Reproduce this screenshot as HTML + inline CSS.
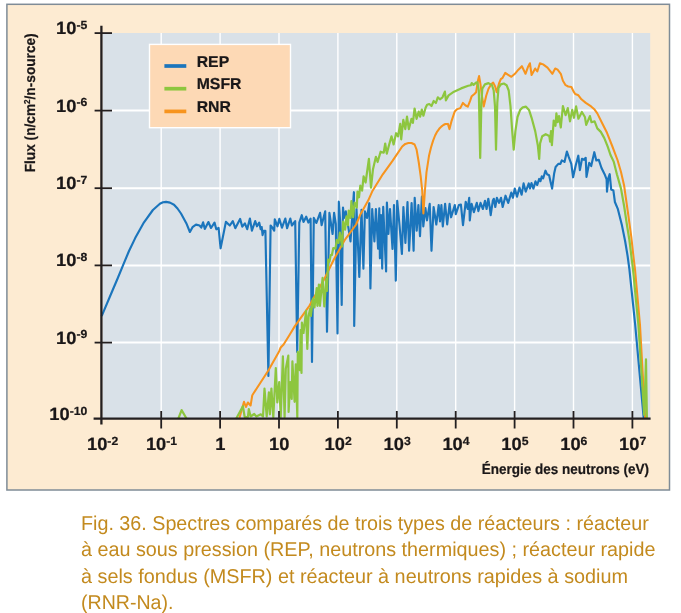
<!DOCTYPE html>
<html lang="fr"><head><meta charset="utf-8"><title>Fig. 36</title>
<style>
html,body{margin:0;padding:0;background:#fff;}
body{width:681px;height:613px;overflow:hidden;}
svg{display:block;}
text{font-family:"Liberation Sans",sans-serif;text-rendering:geometricPrecision;}
.b{font-weight:bold;fill:#1a1718;stroke:#1a1718;stroke-width:0.22px;stroke-linejoin:round;}
.c{fill:#c38a1e;}
</style></head><body>
<svg width="681" height="613" viewBox="0 0 681 613">
<defs><clipPath id="pc"><rect x="100" y="33" width="551" height="386.5"/></clipPath></defs>
<rect x="0" y="0" width="681" height="613" fill="#ffffff"/>
<rect x="6.9" y="4.3" width="662.6" height="485.7" fill="#fdebd2" stroke="#7f8c97" stroke-width="1.5"/>
<rect x="102.4" y="33" width="547.8" height="385.8" fill="#d9e1e8"/>
<line x1="161.2" y1="33" x2="161.2" y2="418.8" stroke="#ffffff" stroke-width="1.4"/>
<line x1="220.1" y1="33" x2="220.1" y2="418.8" stroke="#ffffff" stroke-width="1.4"/>
<line x1="279.0" y1="33" x2="279.0" y2="418.8" stroke="#ffffff" stroke-width="1.4"/>
<line x1="337.9" y1="33" x2="337.9" y2="418.8" stroke="#ffffff" stroke-width="1.4"/>
<line x1="396.8" y1="33" x2="396.8" y2="418.8" stroke="#ffffff" stroke-width="1.4"/>
<line x1="455.7" y1="33" x2="455.7" y2="418.8" stroke="#ffffff" stroke-width="1.4"/>
<line x1="514.6" y1="33" x2="514.6" y2="418.8" stroke="#ffffff" stroke-width="1.4"/>
<line x1="573.5" y1="33" x2="573.5" y2="418.8" stroke="#ffffff" stroke-width="1.4"/>
<line x1="632.4" y1="33" x2="632.4" y2="418.8" stroke="#ffffff" stroke-width="1.4"/>
<line x1="102.4" y1="110.6" x2="650.2" y2="110.6" stroke="#ffffff" stroke-width="2"/>
<line x1="102.4" y1="188.2" x2="650.2" y2="188.2" stroke="#ffffff" stroke-width="2"/>
<line x1="102.4" y1="265.4" x2="650.2" y2="265.4" stroke="#ffffff" stroke-width="2"/>
<line x1="102.4" y1="342.6" x2="650.2" y2="342.6" stroke="#ffffff" stroke-width="2"/>
<rect x="149.5" y="44.4" width="141" height="83.3" fill="#fdd9b5" stroke="#ffffff" stroke-width="1.4"/>
<g clip-path="url(#pc)" fill="none" stroke-linejoin="round" stroke-linecap="butt">
<path d="M101.5,316.0 L102.4,314.4 L112.7,290.0 L117.6,278.5 L122.9,265.6 L129.0,251.0 L135.2,238.1 L144.0,222.3 L152.9,210.0 L159.9,203.8 L163.0,202.3 L166.1,201.9 L170.0,202.6 L174.0,204.7 L177.5,208.5 L181.0,213.5 L186.3,223.2 L189.9,232.0 L192.5,227.2 L196.0,224.6 L199.6,225.5 L201.3,227.6 L203.1,222.3 L204.8,229.0 L208.4,222.0 L211.0,228.0 L214.5,222.6 L216.3,229.3 L218.6,228.0 L220.6,248.3 L225.9,221.9 L229.8,225.5 L232.8,221.1 L235.3,228.2 L240.1,218.9 L242.3,226.7 L244.9,223.3 L247.2,229.2 L249.9,218.5 L251.9,230.7 L255.2,221.1 L257.0,226.3 L259.2,222.6 L260.7,229.2 L261.7,227.0 L262.6,235.1 L263.6,230.7 L265.4,230.7 L268.4,376.0 L270.6,225.5 L272.4,227.7 L274.2,230.7 L274.8,219.4 L277.5,226.3 L279.3,218.9 L282.0,227.7 L285.3,218.5 L287.1,228.2 L290.3,218.5 L291.9,225.5 L295.2,221.1 L297.2,352.0 L299.3,222.6 L301.8,215.2 L303.5,221.9 L306.2,216.7 L308.4,222.6 L310.6,218.6 L312.0,362.0 L313.8,217.9 L316.4,223.0 L320.1,212.8 L321.6,225.2 L325.2,211.3 L327.0,331.8 L329.4,212.8 L332.6,234.0 L334.1,212.8 L335.8,224.0 L337.5,333.5 L338.8,201.7 L340.2,222.0 L341.7,305.0 L343.0,207.6 L344.0,218.0 L345.8,211.3 L348.0,225.2 L350.5,241.4 L353.9,192.2 L354.2,326.0 L356.5,209.0 L359.3,277.0 L361.5,209.8 L363.4,268.6 L364.9,211.3 L367.0,218.0 L369.3,203.2 L370.4,288.4 L372.2,209.1 L374.4,241.4 L375.9,209.1 L378.1,248.7 L379.3,208.4 L379.9,258.3 L381.0,215.0 L382.2,268.6 L383.2,206.9 L386.1,271.5 L386.9,202.5 L388.4,234.0 L390.0,209.0 L392.5,249.0 L394.0,205.0 L395.8,280.6 L397.2,200.8 L399.5,225.0 L401.9,253.9 L403.4,207.0 L405.4,243.0 L407.5,202.0 L409.1,250.8 L411.6,203.0 L413.6,250.8 L414.7,197.8 L416.7,230.6 L418.4,205.0 L420.0,236.2 L421.9,196.7 L423.3,226.5 L425.4,208.0 L427.0,220.4 L429.7,203.9 L431.5,250.8 L433.6,207.0 L436.3,224.5 L438.7,205.0 L440.0,221.4 L441.4,205.0 L442.8,226.5 L445.1,203.9 L447.2,224.5 L449.6,203.9 L451.1,217.3 L454.8,205.0 L455.8,214.2 L458.9,205.0 L460.9,204.5 L463.0,225.1 L465.7,201.9 L467.7,209.0 L469.2,197.8 L469.8,220.4 L471.6,203.9 L473.9,212.1 L476.8,202.9 L478.4,211.1 L480.5,202.9 L482.9,209.0 L485.0,200.8 L486.6,209.0 L488.3,198.8 L489.7,207.0 L490.7,215.2 L492.8,200.8 L493.8,198.8 L495.3,207.0 L496.9,197.8 L499.0,202.9 L501.0,197.8 L502.7,207.0 L505.5,195.7 L508.2,202.9 L511.3,192.6 L512.9,197.8 L514.8,188.5 L517.0,196.7 L519.5,187.5 L521.6,194.7 L523.6,183.4 L525.7,191.6 L528.8,183.4 L530.0,188.5 L531.5,183.0 L533.4,188.6 L535.5,181.4 L537.2,185.0 L539.2,178.9 L540.5,181.1 L541.8,176.3 L543.2,178.3 L544.7,173.2 L545.5,170.7 L547.0,174.2 L549.1,175.2 L550.7,182.4 L552.1,188.6 L554.2,173.2 L555.6,167.0 L558.3,163.9 L560.4,163.9 L561.8,160.4 L564.5,161.9 L566.9,151.6 L568.6,156.7 L571.3,163.9 L573.1,177.3 L575.8,165.0 L578.3,155.7 L579.9,170.1 L582.0,158.8 L584.0,159.8 L585.7,157.8 L586.5,176.9 L589.2,162.9 L591.2,166.0 L594.3,152.2 L596.3,160.4 L598.8,159.8 L601.5,168.0 L604.6,174.2 L606.6,179.3 L607.0,191.7 L608.3,178.3 L609.7,174.2 L611.2,189.6 L613.4,190.6 L614.9,202.0 L617.9,209.2 L622.0,225.6 L625.1,241.0 L627.6,256.0 L629.4,269.4 L635.2,325.0 L643.4,415.0 L643.8,419.0" stroke="#1b75bc" stroke-width="2.15"/>
<path d="M239.2,419.0 L244.0,401.8 L245.9,407.0 L247.9,402.5 L250.6,405.5 L252.3,395.2 L268.5,370.2 L279.2,351.2 L280.7,347.5 L283.6,344.5 L289.5,335.0 L294.7,326.4 L309.4,305.8 L324.1,279.4 L334.1,259.0 L344.3,240.7 L356.1,224.5 L360.5,214.2 L368.3,200.3 L372.6,190.7 L382.8,174.3 L392.5,160.9 L402.2,146.5 L405.3,143.9 L408.4,143.0 L411.5,143.0 L414.6,144.5 L416.6,149.6 L418.7,162.0 L420.7,176.3 L422.2,190.7 L423.4,213.4 L424.9,190.7 L426.5,172.2 L429.0,155.8 L431.0,147.5 L433.1,140.6 L435.1,135.5 L437.2,131.6 L439.2,128.8 L441.3,126.6 L443.4,125.0 L445.4,124.0 L447.9,123.9 L449.5,129.1 L451.6,120.8 L454.7,111.6 L457.3,109.1 L460.3,108.1 L462.9,102.9 L465.6,105.5 L467.8,106.7 L470.0,101.1 L471.7,96.2 L474.4,94.0 L476.1,92.3 L477.9,80.8 L479.1,76.1 L480.5,84.4 L481.9,95.8 L483.7,106.4 L486.2,95.8 L488.5,88.8 L491.1,84.4 L493.2,82.6 L495.0,86.1 L496.7,92.3 L499.0,83.5 L500.8,79.1 L502.6,77.8 L505.2,72.9 L507.8,74.7 L511.4,76.8 L514.9,73.8 L518.4,69.7 L521.9,66.2 L525.5,73.8 L528.1,66.7 L529.9,63.2 L531.6,75.0 L535.2,68.5 L537.3,71.5 L539.9,63.2 L543.1,64.4 L547.5,67.6 L552.4,73.8 L555.2,68.5 L557.6,69.7 L560.8,73.8 L562.9,80.8 L565.6,85.2 L568.2,86.5 L571.4,87.0 L573.5,91.4 L575.2,94.0 L578.4,95.3 L581.4,99.3 L585.8,102.9 L591.1,106.4 L594.6,109.6 L597.3,113.4 L601.7,122.2 L607.0,132.8 L612.2,146.0 L617.5,160.0 L621.0,172.0 L624.1,185.5 L628.2,214.3 L631.3,236.9 L633.4,256.0 L635.0,269.4 L640.0,325.0 L645.1,416.0 L645.3,419.0" stroke="#f7941e" stroke-width="2.05"/>
<path d="M178.2,419.0 L181.6,410.1 L186.8,419.0" stroke="#8dc63f" stroke-width="2.2"/>
<path d="M236.0,419.0 L242.9,406.2 L244.7,417.0 L247.9,417.0 L248.8,409.0 L250.6,416.5 L254.2,414.0 L256.4,416.5 L260.8,414.3 L263.0,416.5 L264.5,388.6 L266.7,416.5 L268.9,392.3 L269.9,414.3 L271.4,388.6 L273.3,417.2 L275.8,368.0 L277.3,402.5 L279.2,382.0 L280.7,417.2 L282.9,356.3 L284.6,417.2 L285.8,368.8 L288.3,355.6 L288.6,412.0 L290.2,382.0 L291.7,398.9 L292.4,361.4 L294.6,401.8 L295.8,364.4 L297.3,417.2 L297.8,351.9 L299.8,370.2 L300.6,330.0 L301.5,373.0 L301.9,322.7 L303.5,333.0 L306.1,310.9 L307.3,349.0 L308.6,316.0 L310.1,308.7 L310.8,316.0 L313.0,298.5 L314.5,307.3 L316.7,288.2 L317.4,305.8 L318.9,284.5 L319.9,305.8 L322.6,277.9 L324.3,306.5 L326.3,279.4 L327.0,291.0 L328.2,259.5 L329.5,261.5 L330.7,255.0 L331.9,255.0 L333.3,248.0 L335.5,248.7 L336.7,239.9 L338.5,242.9 L339.9,232.6 L342.1,246.5 L343.2,221.6 L345.1,229.6 L346.5,216.4 L348.0,225.2 L348.7,210.6 L350.5,217.9 L351.4,201.0 L353.1,217.2 L354.6,202.5 L356.8,207.6 L357.5,191.5 L359.0,197.3 L360.3,185.5 L362.1,190.7 L363.6,176.3 L365.6,182.5 L368.9,158.9 L371.0,187.7 L373.0,169.2 L375.9,156.8 L377.6,162.0 L380.6,151.7 L383.7,152.7 L385.2,143.5 L386.8,153.7 L388.9,145.5 L391.5,136.3 L393.6,144.5 L396.1,133.2 L398.1,136.3 L400.2,123.9 L401.2,139.3 L403.3,119.8 L405.3,129.1 L407.0,116.7 L408.8,129.1 L411.5,118.8 L412.9,122.9 L414.6,108.5 L416.6,118.8 L418.7,111.6 L420.1,116.7 L421.8,109.5 L423.4,115.7 L425.6,107.8 L427.1,104.7 L429.3,104.0 L431.5,106.0 L433.7,101.0 L435.9,103.0 L437.8,97.3 L439.9,99.3 L442.5,97.3 L444.9,91.6 L445.9,100.3 L448.6,95.4 L454.0,91.7 L461.1,88.4 L468.2,85.8 L470.8,85.2 L471.7,83.1 L473.5,84.9 L476.1,82.6 L477.4,82.2 L478.8,90.5 L480.2,158.0 L481.4,102.9 L482.3,88.8 L484.9,84.4 L488.5,83.1 L492.0,85.2 L493.7,90.5 L495.0,106.4 L496.0,149.6 L497.3,102.9 L498.5,87.9 L500.8,84.4 L503.8,83.5 L506.6,85.2 L508.7,90.5 L510.5,106.4 L512.2,131.1 L513.7,149.6 L515.4,131.1 L517.5,117.0 L520.2,109.9 L522.8,107.3 L526.0,106.7 L529.0,109.9 L531.6,117.8 L535.2,131.1 L537.8,145.2 L539.2,159.0 L540.1,143.4 L542.2,136.3 L545.7,134.2 L549.3,136.0 L550.1,141.6 L551.0,131.1 L551.9,145.2 L553.7,120.5 L555.5,125.8 L556.4,113.4 L557.6,122.2 L559.0,116.0 L560.8,127.5 L562.9,106.0 L565.6,115.2 L567.8,108.1 L570.0,121.4 L572.2,109.9 L574.0,117.8 L576.1,106.4 L578.4,118.7 L581.9,112.0 L584.9,117.0 L586.2,124.9 L589.9,116.1 L591.5,122.2 L594.6,121.4 L597.3,128.4 L600.8,131.9 L604.3,138.1 L607.8,146.9 L610.5,155.0 L613.8,161.9 L616.9,174.2 L621.0,188.6 L624.1,206.0 L627.2,226.6 L629.4,240.0 L633.0,269.4 L638.4,325.0 L644.2,415.0 L646.0,359.4 L646.9,419.0" stroke="#8dc63f" stroke-width="2.2"/>
</g>
<line x1="164.4" y1="66" x2="186.3" y2="66" stroke="#1b75bc" stroke-width="3.7"/>
<text transform="translate(196.7,66.5) scale(1.0,1)" text-anchor="start" class="b" font-size="15.8">REP</text>
<line x1="164.4" y1="88.7" x2="186.3" y2="88.7" stroke="#8dc63f" stroke-width="3.7"/>
<text transform="translate(196.7,89.2) scale(1.0,1)" text-anchor="start" class="b" font-size="15.8">MSFR</text>
<line x1="164.4" y1="111.4" x2="186.3" y2="111.4" stroke="#f7941e" stroke-width="3.7"/>
<text transform="translate(196.7,111.9) scale(1.0,1)" text-anchor="start" class="b" font-size="15.8">RNR</text>
<line x1="101.4" y1="25.7" x2="101.4" y2="424.4" stroke="#231f20" stroke-width="2.3"/>
<line x1="93.6" y1="418.6" x2="650.6" y2="418.6" stroke="#231f20" stroke-width="2.3"/>
<line x1="94.6" y1="33.1" x2="112" y2="33.1" stroke="#231f20" stroke-width="1.8"/>
<line x1="94.6" y1="110.6" x2="112" y2="110.6" stroke="#231f20" stroke-width="1.8"/>
<line x1="94.6" y1="188.2" x2="112" y2="188.2" stroke="#231f20" stroke-width="1.8"/>
<line x1="94.6" y1="265.4" x2="112" y2="265.4" stroke="#231f20" stroke-width="1.8"/>
<line x1="94.6" y1="342.6" x2="112" y2="342.6" stroke="#231f20" stroke-width="1.8"/>
<line x1="161.2" y1="411" x2="161.2" y2="428.5" stroke="#231f20" stroke-width="1.8"/>
<line x1="220.1" y1="411" x2="220.1" y2="428.5" stroke="#231f20" stroke-width="1.8"/>
<line x1="279.0" y1="411" x2="279.0" y2="428.5" stroke="#231f20" stroke-width="1.8"/>
<line x1="337.9" y1="411" x2="337.9" y2="428.5" stroke="#231f20" stroke-width="1.8"/>
<line x1="396.8" y1="411" x2="396.8" y2="428.5" stroke="#231f20" stroke-width="1.8"/>
<line x1="455.7" y1="411" x2="455.7" y2="428.5" stroke="#231f20" stroke-width="1.8"/>
<line x1="514.6" y1="411" x2="514.6" y2="428.5" stroke="#231f20" stroke-width="1.8"/>
<line x1="573.5" y1="411" x2="573.5" y2="428.5" stroke="#231f20" stroke-width="1.8"/>
<line x1="632.4" y1="411" x2="632.4" y2="428.5" stroke="#231f20" stroke-width="1.8"/>
<text transform="translate(87.3,34.1) scale(1.035,1)" text-anchor="end" class="b" font-size="17.7">10<tspan font-size="11.8" dy="-5.3">-5</tspan></text>
<text transform="translate(87.3,111.6) scale(1.035,1)" text-anchor="end" class="b" font-size="17.7">10<tspan font-size="11.8" dy="-5.3">-6</tspan></text>
<text transform="translate(87.3,189.2) scale(1.035,1)" text-anchor="end" class="b" font-size="17.7">10<tspan font-size="11.8" dy="-5.3">-7</tspan></text>
<text transform="translate(87.3,266.4) scale(1.035,1)" text-anchor="end" class="b" font-size="17.7">10<tspan font-size="11.8" dy="-5.3">-8</tspan></text>
<text transform="translate(87.3,343.6) scale(1.035,1)" text-anchor="end" class="b" font-size="17.7">10<tspan font-size="11.8" dy="-5.3">-9</tspan></text>
<text transform="translate(87.3,419.8) scale(1.035,1)" text-anchor="end" class="b" font-size="17.7">10<tspan font-size="11.8" dy="-5.3">-10</tspan></text>
<text transform="translate(102.6,449.8) scale(1.035,1)" text-anchor="middle" class="b" font-size="17.7">10<tspan font-size="11.8" dy="-5.3">-2</tspan></text>
<text transform="translate(161.5,449.8) scale(1.035,1)" text-anchor="middle" class="b" font-size="17.7">10<tspan font-size="11.8" dy="-5.3">-1</tspan></text>
<text transform="translate(220.4,449.8) scale(1.035,1)" text-anchor="middle" class="b" font-size="17.7">1</text>
<text transform="translate(279.3,449.8) scale(1.035,1)" text-anchor="middle" class="b" font-size="17.7">10</text>
<text transform="translate(338.2,449.8) scale(1.035,1)" text-anchor="middle" class="b" font-size="17.7">10<tspan font-size="11.8" dy="-5.3">2</tspan></text>
<text transform="translate(397.1,449.8) scale(1.035,1)" text-anchor="middle" class="b" font-size="17.7">10<tspan font-size="11.8" dy="-5.3">3</tspan></text>
<text transform="translate(456.0,449.8) scale(1.035,1)" text-anchor="middle" class="b" font-size="17.7">10<tspan font-size="11.8" dy="-5.3">4</tspan></text>
<text transform="translate(514.9,449.8) scale(1.035,1)" text-anchor="middle" class="b" font-size="17.7">10<tspan font-size="11.8" dy="-5.3">5</tspan></text>
<text transform="translate(573.8,449.8) scale(1.035,1)" text-anchor="middle" class="b" font-size="17.7">10<tspan font-size="11.8" dy="-5.3">6</tspan></text>
<text transform="translate(632.7,449.8) scale(1.035,1)" text-anchor="middle" class="b" font-size="17.7">10<tspan font-size="11.8" dy="-5.3">7</tspan></text>
<text transform="translate(649.0,474.1) scale(0.925,1)" text-anchor="end" class="b" font-size="14.6">Énergie des neutrons (eV)</text>
<text transform="translate(34.9,172.3) rotate(-90) scale(0.937,1)" class="b" font-size="14.6">Flux (n/cm<tspan font-size="8.6" dy="-4.6">2</tspan><tspan dy="4.6">/n-source)</tspan></text>
<text transform="translate(81.0,529.7) scale(0.986,1)" text-anchor="start" class="c" font-size="20">Fig. 36. Spectres comparés de trois types de réacteurs : réacteur</text>
<text transform="translate(81.0,556.1) scale(0.9887,1)" text-anchor="start" class="c" font-size="20">à eau sous pression (REP, neutrons thermiques) ; réacteur rapide</text>
<text transform="translate(81.0,582.5) scale(0.99,1)" text-anchor="start" class="c" font-size="20">à sels fondus (MSFR) et réacteur à neutrons rapides à sodium</text>
<text transform="translate(81.0,608.9) scale(0.979,1)" text-anchor="start" class="c" font-size="20">(RNR-Na).</text>
</svg>
</body></html>
